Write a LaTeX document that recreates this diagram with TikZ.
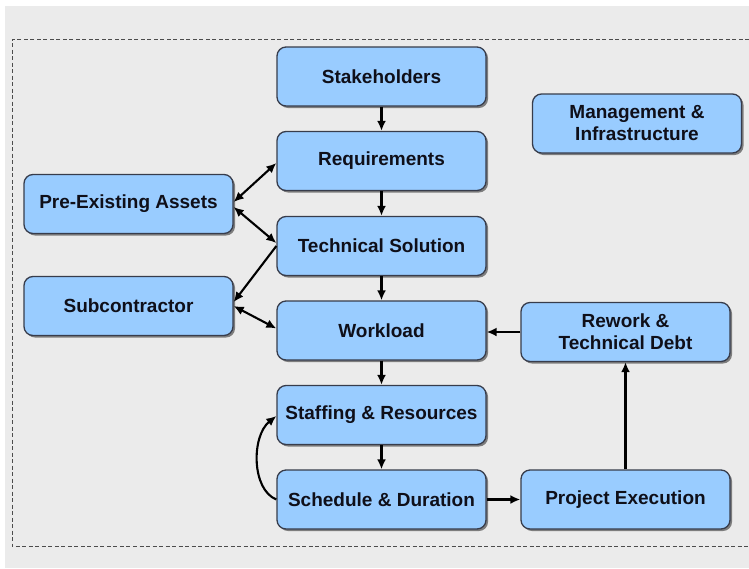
\documentclass[tikz,border=0pt]{standalone}
\usepackage{fontspec}
\setmainfont{Liberation Sans}
\usetikzlibrary{shadows,arrows.meta}
\definecolor{bggray}{RGB}{235,235,235}
\definecolor{boxfill}{RGB}{153,204,255}
\definecolor{boxline}{RGB}{55,60,75}
\definecolor{txt}{RGB}{15,15,25}
\tikzset{
  boxnode/.style={rounded corners=9pt, draw=boxline, line width=1.3pt, fill=boxfill,
    minimum width=209pt, minimum height=59pt, inner sep=0pt, align=center,
    text=txt, font=\bfseries\fontsize{19}{22}\selectfont,
    drop shadow={shadow xshift=2pt, shadow yshift=-2pt, fill=black!65, opacity=0.75}},
  conn/.style={line width=2.1pt, draw=black, -{Latex[length=10pt,width=9pt]}},
  biconn/.style={line width=2.1pt, draw=black, {Latex[length=10pt,width=9pt]}-{Latex[length=10pt,width=9pt]}}
}
\begin{document}
\begin{tikzpicture}[x=1pt,y=-1pt]
\useasboundingbox (0,0) rectangle (749,568);
\fill[white] (0,0) rectangle (749,568);
\fill[bggray] (5,6) rectangle (749,568);
\draw[line width=0.9pt, draw=black!70, dash pattern=on 4pt off 2.5pt] (749,39) -- (12,39) -- (12,546) -- (749,546);

\node[boxnode] (stk) at (381.5,76.5) {Stakeholders};
\node[boxnode] (req) at (381.5,161) {Requirements};
\node[boxnode] (tech) at (381.5,246) {Technical Solution};
\node[boxnode] (wl) at (381.5,330.5) {Workload};
\node[boxnode] (staff) at (381.5,415) {Staffing \& Resources};
\node[boxnode] (sched) at (381.5,499.5) {Schedule \& Duration};
\node[boxnode] (pea) at (128.5,204) {Pre-Existing Assets};
\node[boxnode] (sub) at (128.5,306) {Subcontractor};
\node[boxnode] (mgmt) at (637,123.5) {Management \&\\Infrastructure};
\node[boxnode] (rw) at (625.5,332) {Rework \&\\Technical Debt};
\node[boxnode] (pe) at (625.5,499.5) {Project Execution};

\draw[conn] (stk) -- (req);
\draw[conn] (req) -- (tech);
\draw[conn] (tech) -- (wl);
\draw[conn] (wl) -- (staff);
\draw[conn] (staff) -- (sched);
\draw[conn] (sched) -- (pe);
\draw[conn] (pe) -- (rw);
\draw[conn] (rw.west) -- (wl.east |- rw.west);

\draw[biconn] ([yshift=2pt]pea.east) -- ([yshift=-2pt]req.west);
\draw[biconn] ([yshift=-3pt]pea.east) -- ([yshift=3pt]tech.west);
\draw[conn] ([yshift=0pt]tech.west) -- ([yshift=4pt]sub.east);
\draw[biconn] ([yshift=0pt]sub.east) -- ([yshift=2pt]wl.west);

\draw[conn] (sched.west) .. controls +(-25,-10) and +(-25,20) .. ([yshift=-1pt]staff.west);
\end{tikzpicture}
\end{document}
